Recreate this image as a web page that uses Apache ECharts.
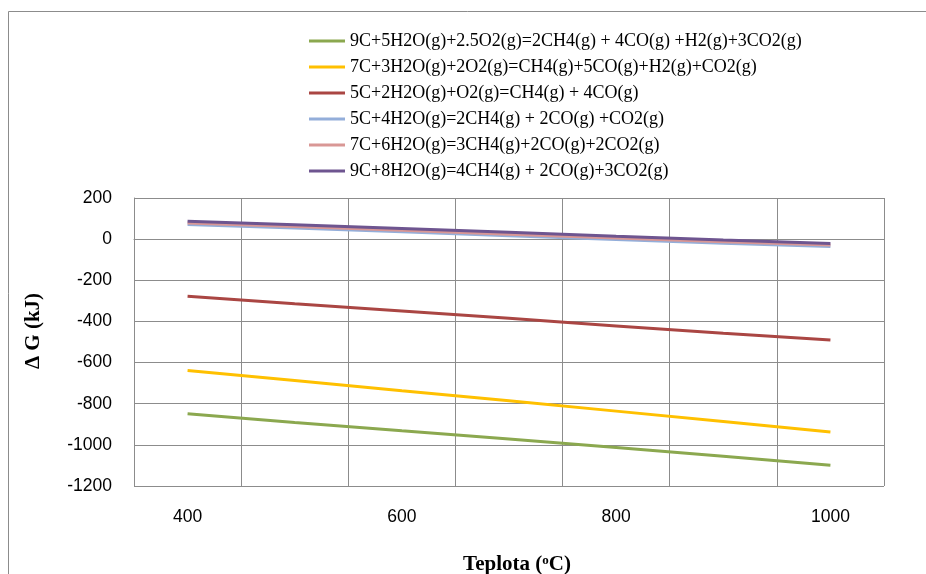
<!DOCTYPE html>
<html>
<head>
<meta charset="utf-8">
<script src="https://cdn.jsdelivr.net/npm/echarts@6/dist/echarts.min.js"></script>
<style>html,body{margin:0;padding:0;background:#fff}#c{width:926px;height:574px}</style>
</head>
<body>
<div id="c"></div>
<script>
const temperatures = ['400', '500', '600', '700', '800', '900', '1000'];
const seriesNames = [
  '9C+5H2O(g)+2.5O2(g)=2CH4(g) + 4CO(g) +H2(g)+3CO2(g)',
  '7C+3H2O(g)+2O2(g)=CH4(g)+5CO(g)+H2(g)+CO2(g)',
  '5C+2H2O(g)+O2(g)=CH4(g) + 4CO(g)',
  '5C+4H2O(g)=2CH4(g) + 2CO(g) +CO2(g)',
  '7C+6H2O(g)=3CH4(g)+2CO(g)+2CO2(g)',
  '9C+8H2O(g)=4CH4(g) + 2CO(g)+3CO2(g)'
];
const green = [-849, -891, -932, -972, -1013, -1055, -1099];
const yellow = [-638, -687, -737, -786, -836, -886, -937];
const red = [-278, -314, -349, -385, -422, -458, -490];
const blue = [71, 54, 36, 17, -2, -20, -36];
const pink = [78, 61, 43, 24, 5, -13, -29];
const purple = [87, 70, 52, 33, 14, -4, -21];
const colors = ['#8BA84F', '#FFC000', '#AA4643', '#93AEDA', '#D99795', '#6E5590'];
const yTicks = { min: -1200, max: 200, interval: 200 };

const allData = [green, yellow, red, blue, pink, purple];
const serif = '"Liberation Serif", "Times New Roman", serif';
const sans = '"Liberation Sans", Arial, sans-serif';

const chart = echarts.init(document.getElementById('c'), null, { renderer: 'canvas' });
chart.setOption({
  animation: false,
  backgroundColor: '#ffffff',
  color: colors,
  graphic: [{
    type: 'rect',
    shape: { x: 8.5, y: 11.5, width: 1000, height: 1000 },
    style: { fill: 'none', stroke: '#8c8c8c', lineWidth: 1 },
    silent: true
  }],
  legend: {
    orient: 'vertical',
    left: 304,
    top: 27,
    itemWidth: 36,
    itemHeight: 3,
    itemGap: 8,
    icon: 'rect',
    data: seriesNames,
    textStyle: { fontFamily: serif, fontSize: 18, color: '#000' }
  },
  grid: { left: 134, top: 198, right: 42, bottom: 88, containLabel: false, outerBoundsMode: 'none' },
  xAxis: {
    type: 'category',
    data: temperatures,
    boundaryGap: true,
    name: '{a|Teplota (}{s|o}{a|C)}',
    nameLocation: 'middle',
    nameGap: 68,
    nameTextStyle: {
      padding: [0, 0, 0, 16],
      rich: {
        a: { fontFamily: serif, fontSize: 21, fontWeight: 'bold', color: '#000' },
        s: { fontFamily: serif, fontSize: 13, fontWeight: 'bold', color: '#000', verticalAlign: 'top', padding: [0, 0, 8, 0] }
      }
    },
    axisLine: { show: true, lineStyle: { color: '#8c8c8c', width: 1 } },
    axisTick: { show: false, interval: 0 },
    axisLabel: { interval: 1, margin: 22, fontFamily: sans, fontSize: 17.5, color: '#000' },
    splitLine: { show: true, interval: 0, lineStyle: { color: '#8c8c8c', width: 1 } }
  },
  yAxis: {
    type: 'value',
    min: yTicks.min,
    max: yTicks.max,
    interval: yTicks.interval,
    name: 'Δ G (kJ)',
    nameLocation: 'middle',
    nameGap: 90,
    nameTextStyle: { fontFamily: serif, fontSize: 21, fontWeight: 'bold', color: '#000', padding: [0, 0, 0, 22] },
    axisLine: { show: true, lineStyle: { color: '#8c8c8c', width: 1 } },
    axisTick: { show: false },
    axisLabel: { margin: 22, fontFamily: sans, fontSize: 17.5, color: '#000', formatter: v => String(v), padding: [3, 0, 0, 0] },
    splitLine: { show: true, lineStyle: { color: '#8c8c8c', width: 1 } }
  },
  series: seriesNames.map((n, i) => ({
    name: n,
    type: 'line',
    data: allData[i],
    symbol: 'none',
    smooth: false,
    lineStyle: { width: 3, color: colors[i] },
    itemStyle: { color: colors[i] }
  }))
});
</script>
</body>
</html>
